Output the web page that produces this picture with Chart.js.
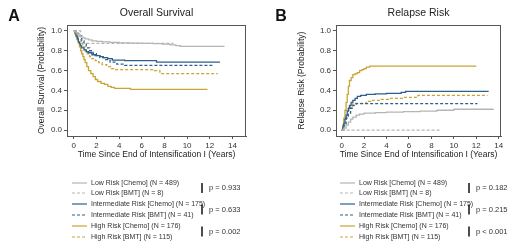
<!DOCTYPE html>
<html>
<head>
<meta charset="utf-8">
<script src="https://cdn.jsdelivr.net/npm/chart.js@4.4.1/dist/chart.umd.min.js"></script>
<style>
  body { margin: 0; background: #fff; }
  .panel { position: absolute; top: 0; width: 260px; height: 250px; }
</style>
</head>
<body>
<div class="panel" style="left:0"><canvas id="osChart" width="260" height="250"></canvas></div>
<div class="panel" style="left:260px"><canvas id="rrChart" width="260" height="250"></canvas></div>
<script>
// ticks
const xTicks = [0, 2, 4, 6, 8, 10, 12, 14];
const yTicks = [0, 0.2, 0.4, 0.6, 0.8, 1.0];

// legend labels
const seriesNames = [
    'Low Risk [Chemo] (N = 489)',
    'Low Risk [BMT] (N = 8)',
    'Intermediate Risk [Chemo] (N = 175)',
    'Intermediate Risk [BMT] (N = 41)',
    'High Risk [Chemo] (N = 176)',
    'High Risk [BMT] (N = 115)'
];
const osPValues = ['p = 0.933', 'p = 0.633', 'p = 0.002'];
const rrPValues = ['p = 0.182', 'p = 0.215', 'p < 0.001'];

// Overall survival curves [time, probability]
const osLowChemo = [[0, 1], [0.1, 0.99], [0.2, 0.98], [0.3, 0.97], [0.4, 0.96], [0.5, 0.95], [0.6, 0.94], [0.8, 0.93], [1, 0.92], [1.3, 0.91], [1.6, 0.9], [2, 0.895], [2.5, 0.89], [3.2, 0.885], [4, 0.88], [5, 0.877], [6, 0.875], [7, 0.872], [7.8, 0.868], [8.5, 0.86], [9, 0.852], [9.4, 0.845], [13.3, 0.845]];
const osLowBmt = [[0, 1], [0.6, 0.875], [8.8, 0.875]];
const osIntChemo = [[0, 1], [0.1, 0.98], [0.2, 0.95], [0.3, 0.92], [0.4, 0.89], [0.5, 0.87], [0.6, 0.85], [0.7, 0.83], [0.9, 0.81], [1.1, 0.79], [1.3, 0.78], [1.6, 0.76], [1.9, 0.75], [2.3, 0.74], [2.6, 0.73], [3, 0.72], [3.4, 0.705], [4.5, 0.7], [7.3, 0.685], [12.9, 0.685]];
const osIntBmt = [[0, 1], [0.3, 0.975], [0.5, 0.95], [0.7, 0.9], [0.9, 0.87], [1.1, 0.83], [1.4, 0.8], [1.7, 0.77], [2, 0.75], [2.3, 0.73], [2.7, 0.71], [3.2, 0.685], [3.8, 0.665], [4.5, 0.653], [12.3, 0.653]];
const osHighChemo = [[0, 1], [0.1, 0.97], [0.2, 0.94], [0.3, 0.91], [0.4, 0.88], [0.5, 0.84], [0.6, 0.8], [0.7, 0.77], [0.8, 0.74], [0.9, 0.71], [1, 0.68], [1.15, 0.64], [1.3, 0.6], [1.5, 0.57], [1.7, 0.54], [1.9, 0.51], [2.1, 0.49], [2.4, 0.47], [2.7, 0.46], [3, 0.44], [3.3, 0.43], [3.6, 0.42], [5, 0.41], [11.8, 0.41]];
const osHighBmt = [[0, 1], [0.2, 0.96], [0.4, 0.92], [0.6, 0.88], [0.8, 0.84], [1, 0.8], [1.2, 0.77], [1.4, 0.74], [1.6, 0.72], [1.9, 0.7], [2.2, 0.68], [2.5, 0.66], [2.9, 0.64], [3.3, 0.62], [3.7, 0.61], [7.1, 0.6], [7.6, 0.57], [12.7, 0.57]];

// Relapse risk curves [time, probability]
const rrLowChemo = [[0, 0], [0.2, 0.02], [0.4, 0.05], [0.6, 0.08], [0.8, 0.11], [1, 0.13], [1.3, 0.15], [1.6, 0.16], [2, 0.17], [3, 0.175], [4, 0.18], [5.5, 0.185], [7, 0.19], [8.5, 0.2], [10, 0.21], [13.5, 0.215]];
const rrLowBmt = [[0, 0], [8.9, 0]];
const rrIntChemo = [[0, 0], [0.1, 0.03], [0.2, 0.07], [0.3, 0.11], [0.4, 0.15], [0.5, 0.19], [0.6, 0.22], [0.7, 0.25], [0.85, 0.28], [1, 0.3], [1.2, 0.32], [1.4, 0.34], [1.7, 0.35], [2.2, 0.36], [3, 0.365], [4, 0.37], [5.3, 0.38], [5.7, 0.39], [13.1, 0.39]];
const rrIntBmt = [[0, 0], [0.2, 0.05], [0.4, 0.12], [0.6, 0.17], [0.8, 0.22], [1, 0.25], [1.3, 0.267], [12.1, 0.267]];
const rrHighChemo = [[0, 0], [0.1, 0.05], [0.2, 0.12], [0.3, 0.2], [0.4, 0.28], [0.5, 0.36], [0.6, 0.44], [0.7, 0.5], [0.85, 0.53], [1, 0.56], [1.2, 0.57], [1.4, 0.58], [1.6, 0.6], [1.8, 0.61], [2, 0.62], [2.2, 0.635], [2.5, 0.645], [12, 0.645]];
const rrHighBmt = [[0, 0], [0.1, 0.05], [0.2, 0.1], [0.4, 0.15], [0.6, 0.2], [0.8, 0.24], [1, 0.27], [2.2, 0.29], [2.6, 0.3], [3.5, 0.31], [4.2, 0.32], [5.5, 0.33], [6.8, 0.35], [13, 0.35]];

const GRAY = '#b5b5b5', BLUE = '#2f5f8c', GOLD = '#c9a534';
const FONT = 'Liberation Sans, Arial, sans-serif';

const styles = [
    { color: GRAY, dash: [] },
    { color: GRAY, dash: [3, 2] },
    { color: BLUE, dash: [] },
    { color: BLUE, dash: [3, 2] },
    { color: GOLD, dash: [] },
    { color: GOLD, dash: [3, 2] }
];

function makeDatasets(curves) {
    return curves.map((c, i) => ({
        label: seriesNames[i],
        data: c.map(p => ({ x: p[0], y: p[1] })),
        borderColor: styles[i].color,
        borderDash: styles[i].dash,
        borderWidth: 1.3,
        stepped: true,
        pointRadius: 0,
        fill: false
    }));
}

// box, titles and legend with p-values
function decorPlugin(letter, title, pValues, leg) {
    return {
        id: 'decor' + letter,
        afterDraw(chart) {
            const ctx = chart.ctx, a = chart.chartArea;
            ctx.save();
            ctx.strokeStyle = '#555';
            ctx.lineWidth = 1;
            ctx.strokeRect(a.left + 0.5, a.top + 0.5, a.right - a.left - 1, a.bottom - a.top);
            ctx.fillStyle = '#111';
            ctx.textBaseline = 'middle';
            ctx.textAlign = 'center';
            ctx.font = 'bold 16px ' + FONT;
            ctx.fillText(letter, leg.letterX, 17);
            ctx.fillStyle = '#222';
            ctx.font = '10.5px ' + FONT;
            ctx.fillText(title, (a.left + a.right) / 2, 13);
            // legend rows
            ctx.textAlign = 'left';
            ctx.font = '7px ' + FONT;
            const rows = [183, 193, 204, 215, 226, 237];
            seriesNames.forEach((name, i) => {
                ctx.strokeStyle = styles[i].color;
                ctx.setLineDash(styles[i].dash);
                ctx.lineWidth = 1.2;
                ctx.beginPath();
                ctx.moveTo(leg.lineX, rows[i]);
                ctx.lineTo(leg.lineX + 15, rows[i]);
                ctx.stroke();
                ctx.fillStyle = '#333';
                ctx.fillText(name, leg.textX, rows[i]);
            });
            ctx.setLineDash([]);
            ctx.font = '7.5px ' + FONT;
            pValues.forEach((p, k) => {
                const y = (rows[2 * k] + rows[2 * k + 1]) / 2;
                ctx.strokeStyle = '#111';
                ctx.lineWidth = 1.5;
                ctx.beginPath();
                ctx.moveTo(leg.barX, y - 5);
                ctx.lineTo(leg.barX, y + 5);
                ctx.stroke();
                ctx.fillStyle = '#333';
                ctx.fillText(p, leg.barX + 7, y);
            });
            ctx.restore();
        }
    };
}

function makeChart(id, curves, cfg) {
    return new Chart(document.getElementById(id), {
        type: 'line',
        data: { datasets: makeDatasets(curves) },
        options: {
            responsive: false,
            animation: false,
            layout: { padding: { left: 33, right: cfg.padRight, top: 25, bottom: 86 } },
            plugins: { legend: { display: false }, tooltip: { enabled: false } },
            scales: {
                x: {
                    type: 'linear',
                    min: cfg.xMin, max: cfg.xMax,
                    afterBuildTicks: s => { s.ticks = xTicks.map(v => ({ value: v })); },
                    afterFit: s => { s.height = 28; },
                    ticks: { color: '#333', font: { family: FONT, size: 8 }, padding: 2, maxRotation: 0 },
                    grid: { drawOnChartArea: false, tickLength: 3, color: '#555' },
                    border: { color: '#555' },
                    title: { display: true, text: 'Time Since End of Intensification I (Years)', color: '#222', font: { family: FONT, size: 8.5 }, padding: { top: 2, bottom: 4 } }
                },
                y: {
                    min: -0.06, max: 1.06,
                    afterBuildTicks: s => { s.ticks = yTicks.map(v => ({ value: v })); },
                    afterFit: s => { s.width = cfg.yWidth; },
                    ticks: { color: '#333', font: { family: FONT, size: 8 }, padding: 2, callback: v => v.toFixed(1) },
                    grid: { drawOnChartArea: false, tickLength: 3, color: '#555' },
                    border: { color: '#555' },
                    title: { display: true, text: cfg.yTitle, color: '#222', font: { family: FONT, size: 8.5 } }
                }
            }
        },
        plugins: [decorPlugin(cfg.letter, cfg.title, cfg.pValues, cfg.leg)]
    });
}

makeChart('osChart', [osLowChemo, osLowBmt, osIntChemo, osIntBmt, osHighChemo, osHighBmt], {
    letter: 'A', title: 'Overall Survival', yTitle: 'Overall Survival (Probability)',
    xMin: -0.6, xMax: 15.2, padRight: 14, yWidth: 34, pValues: osPValues,
    leg: { letterX: 14, lineX: 72, textX: 91, barX: 202 }
});
makeChart('rrChart', [rrLowChemo, rrLowBmt, rrIntChemo, rrIntBmt, rrHighChemo, rrHighBmt], {
    letter: 'B', title: 'Relapse Risk', yTitle: 'Relapse Risk (Probability)',
    xMin: -0.5, xMax: 14.2, padRight: 19, yWidth: 43, pValues: rrPValues,
    leg: { letterX: 21, lineX: 80, textX: 99, barX: 209 }
});
</script>
</body>
</html>
